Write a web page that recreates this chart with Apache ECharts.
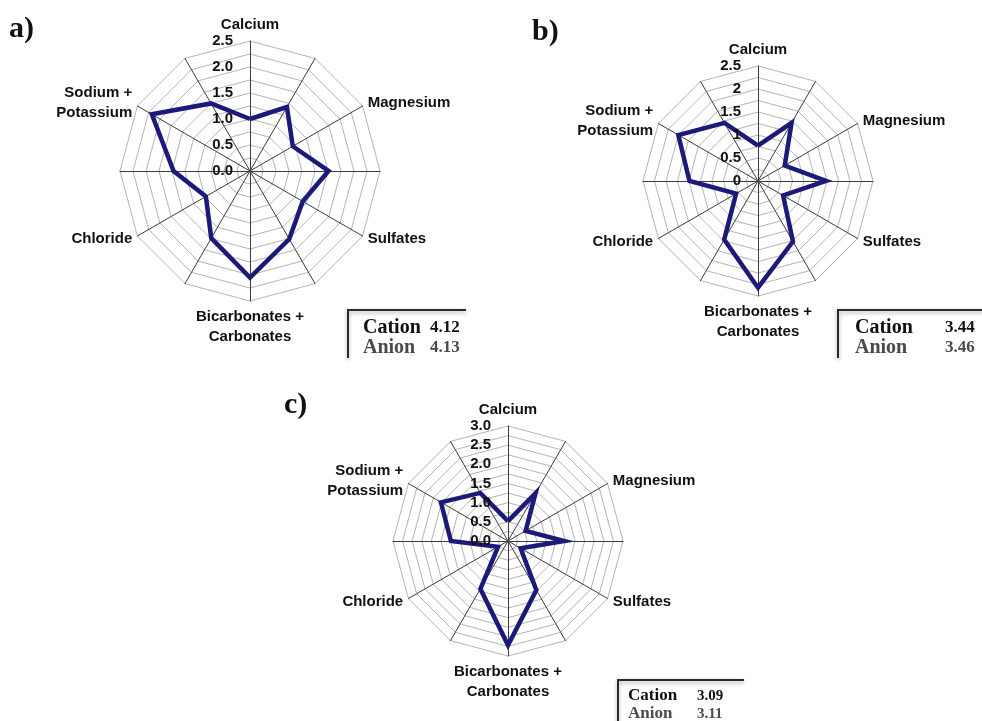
<!DOCTYPE html>
<html><head><meta charset="utf-8">
<script src="https://cdn.jsdelivr.net/npm/echarts@6/dist/echarts.min.js"></script>
<style>html,body{margin:0;padding:0;background:#fff}#chart{width:982px;height:721px}</style>
</head><body><div id="chart"></div>
<script>
// Radar axes listed counter-clockwise from the top (ECharts radar order)
const axisNames = ['Calcium', '', 'Sodium +\nPotassium', '', 'Chloride', '', 'Bicarbonates +\nCarbonates', '', 'Sulfates', '', 'Magnesium', ''];
const valuesA = [1.0, 1.5, 2.18, 1.47, 0.98, 1.49, 2.05, 1.51, 1.17, 1.51, 0.95, 1.42];
const valuesB = [0.77, 1.46, 2.0, 1.49, 0.55, 1.47, 2.32, 1.52, 0.63, 1.48, 0.67, 1.46];
const valuesC = [0.52, 1.45, 2.02, 1.49, 0.3, 1.44, 2.72, 1.48, 0.38, 1.47, 0.53, 1.44];
const panelLabels = ['a)', 'b)', 'c)'];
const scaleMax = [2.5, 2.5, 3.0];
const tickLabelsA = ['0.0', '0.5', '1.0', '1.5', '2.0', '2.5'];
const tickLabelsB = ['0', '0.5', '1', '1.5', '2', '2.5'];
const tickLabelsC = ['0.0', '0.5', '1.0', '1.5', '2.0', '2.5', '3.0'];
const cationTotals = ['4.12', '3.44', '3.09'];
const anionTotals = ['4.13', '3.46', '3.11'];

const allValues = [valuesA, valuesB, valuesC];
const allTicks = [tickLabelsA, tickLabelsB, tickLabelsC];

// layout
const panels = [
  { center: [250, 171], radius: 130, split: 10, title: [9, 14] },
  { center: [758, 181], radius: 115, split: 10, title: [532, 17] },
  { center: [508, 541], radius: 115, split: 12, title: [284, 390] }
];
const boxes = [
  { x: 348, y: 310, w: 118, h: 48, tx: 15, vx: 82, y1: 18, y2: 38, f1: 20, f2: 17 },
  { x: 838, y: 310, w: 150, h: 48, tx: 17, vx: 107, y1: 18, y2: 38, f1: 20, f2: 17 },
  { x: 618, y: 680, w: 126, h: 45, tx: 10, vx: 79, y1: 16, y2: 34, f1: 17, f2: 15 }
];

const sans = '"Liberation Sans", Arial, sans-serif';
const serif = '"Liberation Serif", "Times New Roman", serif';
const lineColor = '#1b1a78';

const chart = echarts.init(document.getElementById('chart'), null, { renderer: 'canvas' });
chart.setOption({
  backgroundColor: '#ffffff',
  animation: false,
  title: panels.map((p, i) => ({
    text: panelLabels[i], left: p.title[0], top: p.title[1], padding: 0,
    textStyle: { fontFamily: serif, fontWeight: 'bold', fontSize: 30, color: '#111' }
  })),
  radar: panels.map((p, i) => ({
    center: p.center, radius: p.radius, startAngle: 90, shape: 'polygon',
    splitNumber: p.split,
    indicator: axisNames.map(n => ({ name: n, min: 0, max: scaleMax[i] })),
    nameGap: 6,
    axisName: { color: '#111', fontWeight: 'bold', fontSize: 15, fontFamily: sans, lineHeight: 20 },
    axisLine: { lineStyle: { color: '#3c3c3c', width: 1 } },
    splitLine: { lineStyle: { color: '#b4b4b4', width: 1 } },
    splitArea: { show: false },
    axisTick: { show: false },
    axisLabel: { show: false }
  })),
  polar: panels.map(p => ({ center: p.center, radius: p.radius })),
  angleAxis: panels.map((p, i) => ({ polarIndex: i, type: 'value', min: 0, max: 360, startAngle: 90, show: false })),
  radiusAxis: panels.map((p, i) => ({
    polarIndex: i, type: 'value', min: 0, max: scaleMax[i], interval: 0.5, z: 20,
    axisLine: { show: false }, axisTick: { show: false }, splitLine: { show: false },
    axisLabel: {
      margin: 17, color: '#111', fontWeight: 'bold', fontSize: 15, fontFamily: sans,
      formatter: v => allTicks[i][Math.round(v / 0.5)]
    }
  })),
  series: allValues.map((vals, i) => ({
    type: 'radar', radarIndex: i, symbol: 'none', silent: true,
    lineStyle: { color: lineColor, width: 4.5, join: 'miter' },
    data: [{ value: vals }]
  })).concat(panels.map((p, i) => ({ type: 'scatter', coordinateSystem: 'polar', polarIndex: i, data: [] }))),
  graphic: boxes.map((b, i) => ({
    type: 'group', x: b.x, y: b.y,
    children: [
      { type: 'polyline', shape: { points: [[0, b.h], [0, 0], [b.w, 0]] },
        style: { stroke: '#2a2a2a', lineWidth: 2, fill: null, shadowColor: 'rgba(0,0,0,0.35)', shadowBlur: 4, shadowOffsetY: 2 } },
      { type: 'text', x: b.tx, y: b.y1, style: { text: 'Cation', fill: '#111', fontFamily: serif, fontWeight: 'bold', fontSize: b.f1, verticalAlign: 'middle' } },
      { type: 'text', x: b.vx, y: b.y1, style: { text: cationTotals[i], fill: '#111', fontFamily: serif, fontWeight: 'bold', fontSize: b.f2, verticalAlign: 'middle' } },
      { type: 'text', x: b.tx, y: b.y2, style: { text: 'Anion', fill: '#4a4a4a', fontFamily: serif, fontWeight: 'bold', fontSize: b.f1, verticalAlign: 'middle' } },
      { type: 'text', x: b.vx, y: b.y2, style: { text: anionTotals[i], fill: '#4a4a4a', fontFamily: serif, fontWeight: 'bold', fontSize: b.f2, verticalAlign: 'middle' } }
    ]
  }))
});
</script>
</body></html>
